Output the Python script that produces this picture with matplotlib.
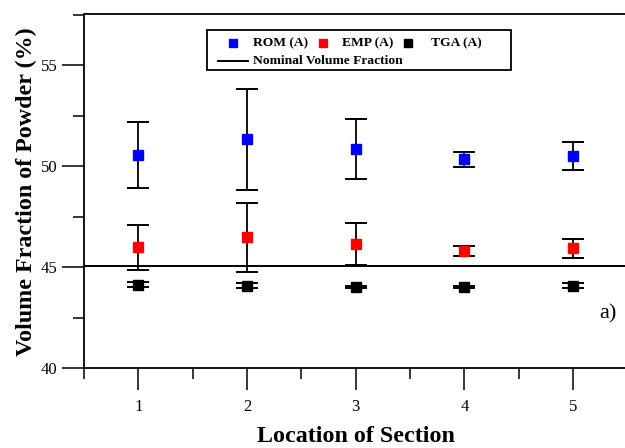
import numpy as np
import matplotlib
matplotlib.use('Agg')
import matplotlib.pyplot as plt
from matplotlib.ticker import MultipleLocator
from matplotlib.patches import Rectangle

# data
sections = [1, 2, 3, 4, 5]

rom_mean = [50.57, 51.34, 50.85, 50.34, 50.51]
rom_low = [48.93, 48.82, 49.35, 49.98, 49.83]
rom_high = [52.20, 53.83, 52.33, 50.70, 51.18]

emp_mean = [45.98, 46.49, 46.15, 45.79, 45.94]
emp_low = [44.86, 44.78, 45.13, 45.55, 45.46]
emp_high = [47.09, 48.19, 47.17, 46.05, 46.40]

tga_mean = [44.12, 44.09, 44.02, 44.02, 44.09]
tga_low = [44.00, 43.99, 43.98, 43.99, 43.96]
tga_high = [44.25, 44.24, 44.06, 44.05, 44.20]

nominal = 45.07

SERIES = [
    ("ROM (A)", rom_mean, rom_low, rom_high, "#0000ff"),
    ("EMP (A)", emp_mean, emp_low, emp_high, "#ff0000"),
    ("TGA (A)", tga_mean, tga_low, tga_high, "#000000"),
]

plt.rcParams['font.family'] = ['Liberation Serif', 'DejaVu Serif']


def main():
    fig = plt.figure(figsize=(6.25, 4.48), dpi=100)
    ax = fig.add_axes([84/625, 1-368.3/448, 543.5/625, (368.3-14.5)/448])

    ax.axhline(nominal, color='black', lw=1.4, zorder=1)

    for name, mean, low, high, col in SERIES:
        mean = np.array(mean)
        err = [mean - np.array(low), np.array(high) - mean]
        ax.errorbar(sections, mean, yerr=err, fmt='s', color=col, ms=6.5,
                    mec=col, ecolor='black', elinewidth=1.3, capsize=8,
                    capthick=1.4, zorder=3)

    ax.set_xlim(0.5, 5.5)
    ax.set_ylim(40, 57.5)
    ax.xaxis.set_major_locator(MultipleLocator(1))
    ax.xaxis.set_minor_locator(MultipleLocator(0.5))
    ax.yaxis.set_major_locator(MultipleLocator(5))
    ax.yaxis.set_minor_locator(MultipleLocator(2.5))
    ax.tick_params(which='major', direction='out', length=16, width=1.1,
                   labelsize=12, pad=3)
    ax.tick_params(which='minor', direction='out', length=8, width=1.1)
    ax.tick_params(axis='x', which='major', pad=6)

    ax.spines['right'].set_visible(False)
    for s in ['left', 'top', 'bottom']:
        ax.spines[s].set_linewidth(1.3)

    ax.set_xlabel('Location of Section', fontsize=17.3, fontweight='bold',
                  labelpad=8)
    ax.set_ylabel('Volume Fraction of Powder (%)', fontsize=17.3,
                  fontweight='bold', labelpad=3)

    ax.text(0.98, 0.155, 'a)', transform=ax.transAxes, fontsize=16,
            ha='right', va='center')

    # legend drawn by hand to get the two-row layout
    def px(x, y):
        return ((x - 84) / 543.5, (368.3 - y) / 353.8)

    x0, y0 = px(207, 70)
    x1, y1 = px(511, 30)
    ax.add_patch(Rectangle((x0, y0), x1 - x0, y1 - y0, transform=ax.transAxes,
                           fill=False, lw=1.3, ec='black', zorder=5,
                           clip_on=False))
    marker_x = [233, 323, 408]
    text_x = [253, 342, 431]
    for (name, mean, low, high, col), mx, tx in zip(SERIES, marker_x, text_x):
        ax.plot(*px(mx, 43), 's', color=col, ms=6, transform=ax.transAxes,
                clip_on=False, zorder=6)
        ax.text(*px(tx, 43), name, transform=ax.transAxes, fontsize=9.7,
                fontweight='bold', va='center', ha='left')
    lx0 = px(218, 61)
    lx1 = px(248, 61)
    ax.plot([lx0[0], lx1[0]], [lx0[1], lx1[1]], color='black', lw=1.4,
            transform=ax.transAxes, clip_on=False)
    ax.text(*px(253, 61), 'Nominal Volume Fraction', transform=ax.transAxes,
            fontsize=9.7, fontweight='bold', va='center', ha='left')

    fig.savefig('out.png', dpi=100)


if __name__ == "__main__":
    main()
